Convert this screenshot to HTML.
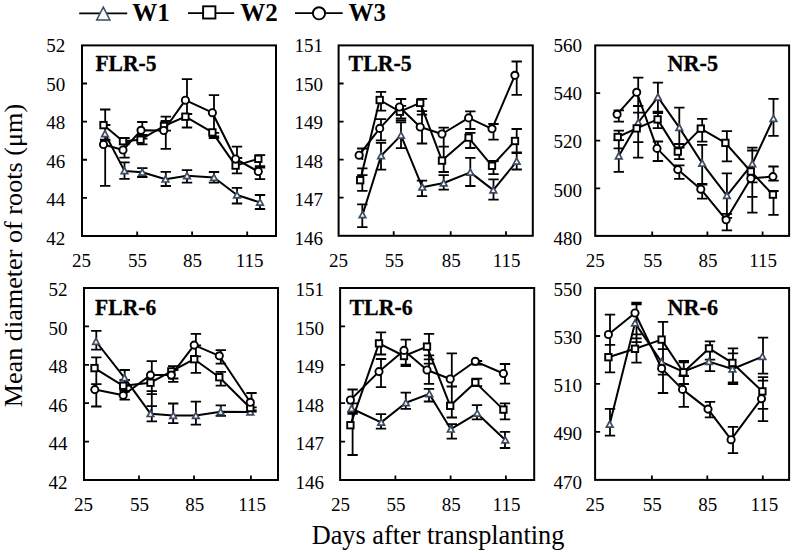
<!DOCTYPE html><html><head><meta charset="utf-8"><style>html,body{margin:0;padding:0;background:#fff;}svg{display:block;}text{font-family:"Liberation Serif",serif;}</style></head><body>
<svg width="794" height="553" viewBox="0 0 794 553">
<rect width="794" height="553" fill="#fff"/>
<path d="M105.2 109.5V140.5M100 109.5H110.4M100 140.5H110.4M105.2 140.5V185.8M100 140.5H110.4M100 185.8H110.4M105.2 125V139.7M100 125H110.4M100 139.7H110.4M124.5 138V144M119.3 138H129.7M119.3 144H129.7M124.5 142.3V157.6M119.3 142.3H129.7M119.3 157.6H129.7M124.5 162.3V178.8M119.3 162.3H129.7M119.3 178.8H129.7M142.3 122V138.6M137.1 122H147.5M137.1 138.6H147.5M142.3 135V144.4M137.1 135H147.5M137.1 144.4H147.5M142.3 168.2V177M137.1 168.2H147.5M137.1 177H147.5M165.8 116.7V148.8M160.6 116.7H171M160.6 148.8H171M165.8 121V130.6M160.6 121H171M160.6 130.6H171M165.8 171.8V186M160.6 171.8H171M160.6 186H171M187 79.2V114M181.8 79.2H192.2M181.8 114H192.2M187 114V127.5M181.8 127.5H192.2M187 170.2V182.6M181.8 170.2H192.2M181.8 182.6H192.2M214 95.2V137.6M208.8 95.2H219.2M208.8 132.8H219.2M208.8 136.4H219.2M208.8 138H219.2M214 172V182.6M208.8 172H219.2M208.8 182.6H219.2M237 146.6V158M231.8 146.6H242.2M231.8 158H242.2M237 158V173.4M231.8 158H242.2M231.8 173.4H242.2M237 187.8V203.5M231.8 187.8H242.2M231.8 203.5H242.2M260 155.2V167M254.8 155.2H265.2M254.8 166.2H265.2M254.8 167.6H265.2M260 167V179.1M254.8 179.1H265.2M260 195V209M254.8 195H265.2M254.8 209H265.2" stroke="#000" stroke-width="1.8" fill="none"/>
<path d="M105 133.8 L124.5 170.9 L142.3 172.3 L165.5 179.2 L187 175.8 L214 177.5 L237 195 L260 202.4" stroke="#000" stroke-width="2.0" fill="none" stroke-linejoin="round"/>
<path d="M105 130.6L108.3 136.6L101.7 136.6Z" fill="#f7f9fc" stroke="#3e4a5f" stroke-width="1.7" stroke-linejoin="miter"/>
<path d="M124.5 167.7L127.8 173.7L121.2 173.7Z" fill="#f7f9fc" stroke="#3e4a5f" stroke-width="1.7" stroke-linejoin="miter"/>
<path d="M142.3 169.1L145.6 175.1L139 175.1Z" fill="#f7f9fc" stroke="#3e4a5f" stroke-width="1.7" stroke-linejoin="miter"/>
<path d="M165.5 176L168.8 182L162.2 182Z" fill="#f7f9fc" stroke="#3e4a5f" stroke-width="1.7" stroke-linejoin="miter"/>
<path d="M187 172.6L190.3 178.6L183.7 178.6Z" fill="#f7f9fc" stroke="#3e4a5f" stroke-width="1.7" stroke-linejoin="miter"/>
<path d="M214 174.3L217.3 180.3L210.7 180.3Z" fill="#f7f9fc" stroke="#3e4a5f" stroke-width="1.7" stroke-linejoin="miter"/>
<path d="M237 191.8L240.3 197.8L233.7 197.8Z" fill="#f7f9fc" stroke="#3e4a5f" stroke-width="1.7" stroke-linejoin="miter"/>
<path d="M260 199.2L263.3 205.2L256.7 205.2Z" fill="#f7f9fc" stroke="#3e4a5f" stroke-width="1.7" stroke-linejoin="miter"/>
<path d="M103.5 125.1 L123 141.2 L140.5 139.7 L164 126 L185.4 116.7 L212.4 132.4 L235.6 165.6 L258.3 158.8" stroke="#000" stroke-width="2.0" fill="none" stroke-linejoin="round"/>
<rect x="100.3" y="121.9" width="6.4" height="6.4" fill="#fff" stroke="#000" stroke-width="1.9"/>
<rect x="119.8" y="138" width="6.4" height="6.4" fill="#fff" stroke="#000" stroke-width="1.9"/>
<rect x="137.3" y="136.5" width="6.4" height="6.4" fill="#fff" stroke="#000" stroke-width="1.9"/>
<rect x="160.8" y="122.8" width="6.4" height="6.4" fill="#fff" stroke="#000" stroke-width="1.9"/>
<rect x="182.2" y="113.5" width="6.4" height="6.4" fill="#fff" stroke="#000" stroke-width="1.9"/>
<rect x="209.2" y="129.2" width="6.4" height="6.4" fill="#fff" stroke="#000" stroke-width="1.9"/>
<rect x="232.4" y="162.4" width="6.4" height="6.4" fill="#fff" stroke="#000" stroke-width="1.9"/>
<rect x="255.1" y="155.6" width="6.4" height="6.4" fill="#fff" stroke="#000" stroke-width="1.9"/>
<path d="M103.5 144.5 L123 150 L141 130.3 L163.7 130.5 L185.4 100.2 L212.4 112.7 L235.6 159 L258.3 171.5" stroke="#000" stroke-width="2.0" fill="none" stroke-linejoin="round"/>
<circle cx="103.5" cy="144.5" r="3.6" fill="#fff" stroke="#000" stroke-width="1.9"/>
<circle cx="123" cy="150" r="3.6" fill="#fff" stroke="#000" stroke-width="1.9"/>
<circle cx="141" cy="130.3" r="3.6" fill="#fff" stroke="#000" stroke-width="1.9"/>
<circle cx="163.7" cy="130.5" r="3.6" fill="#fff" stroke="#000" stroke-width="1.9"/>
<circle cx="185.4" cy="100.2" r="3.6" fill="#fff" stroke="#000" stroke-width="1.9"/>
<circle cx="212.4" cy="112.7" r="3.6" fill="#fff" stroke="#000" stroke-width="1.9"/>
<circle cx="235.6" cy="159" r="3.6" fill="#fff" stroke="#000" stroke-width="1.9"/>
<circle cx="258.3" cy="171.5" r="3.6" fill="#fff" stroke="#000" stroke-width="1.9"/>
<rect x="82" y="45.4" width="194" height="190.6" fill="none" stroke="#000" stroke-width="2"/>
<path d="M82 83.52H87M82 121.64H87M82 159.76H87M82 197.88H87M137.2 236V231.5M192.1 236V231.5M247.2 236V231.5" stroke="#000" stroke-width="1.8" fill="none"/>
<text x="65.3" y="52.3" font-size="19" text-anchor="end">52</text>
<text x="65.3" y="90.76" font-size="19" text-anchor="end">50</text>
<text x="65.3" y="129.22" font-size="19" text-anchor="end">48</text>
<text x="65.3" y="167.68" font-size="19" text-anchor="end">46</text>
<text x="65.3" y="206.14" font-size="19" text-anchor="end">44</text>
<text x="65.3" y="244.6" font-size="19" text-anchor="end">42</text>
<text x="81.6" y="266.5" font-size="19" text-anchor="middle">25</text>
<text x="137.6" y="266.5" font-size="19" text-anchor="middle">55</text>
<text x="192.6" y="266.5" font-size="19" text-anchor="middle">85</text>
<text x="249.7" y="266.5" font-size="19" text-anchor="middle">115</text>
<text transform="translate(95.4,70.8) scale(0.92,1)" font-size="23.5" font-weight="bold" stroke="#000" stroke-width="0.3" text-anchor="start">FLR-5</text>
<path d="M362.3 148.5V160M357.1 148.5H367.5M362.3 168.4V190.8M357.1 168.4H367.5M357.1 190.8H367.5M357.1 175.2H367.5M362.3 204.3V227.1M357.1 204.3H367.5M357.1 227.1H367.5M381 91.8V110.7M375.8 91.8H386.2M375.8 110.7H386.2M381 119.2V140.4M375.8 119.2H386.2M375.8 140.4H386.2M381 142.8V169.7M375.8 142.8H386.2M375.8 169.7H386.2M401 99V111M395.8 99H406.2M401 105.8V118.4M395.8 105.8H406.2M395.8 118.4H406.2M395.8 120.4H406.2M401 122.4V148.1M395.8 122.4H406.2M395.8 148.1H406.2M422 98.8V114.7M416.8 98.8H427.2M416.8 114.7H427.2M422 111.1V143.5M416.8 111.1H427.2M416.8 143.5H427.2M422 180.7V196.2M416.8 180.7H427.2M416.8 196.2H427.2M443.7 127.7V146.7M438.5 127.7H448.9M438.5 146.7H448.9M443.7 146.7V172M438.5 172H448.9M443.7 175.2V189.7M438.5 175.2H448.9M438.5 189.7H448.9M470.3 111.3V129M465.1 111.3H475.5M465.1 129H475.5M470.3 132.8V148M465.1 132.8H475.5M465.1 148H475.5M470.3 157.8V186M465.1 157.8H475.5M465.1 186H475.5M493.5 124V139.7M488.3 124H498.7M488.3 139.7H498.7M493.5 161V174.2M488.3 161H498.7M488.3 174.2H498.7M493.5 179.3V199.6M488.3 179.3H498.7M488.3 199.6H498.7M516.7 61.5V94.8M511.5 61.5H521.9M511.5 94.8H521.9M516.7 129V152.4M511.5 129H521.9M511.5 152.4H521.9M516.7 153.1V169.5M511.5 153.1H521.9M511.5 169.5H521.9" stroke="#000" stroke-width="1.8" fill="none"/>
<path d="M362.5 214.9 L381.1 155.8 L401 135.4 L422.3 187.2 L443.7 183 L470.3 172.4 L493.3 190.1 L516.7 161.3" stroke="#000" stroke-width="2.0" fill="none" stroke-linejoin="round"/>
<path d="M362.5 211.7L365.8 217.7L359.2 217.7Z" fill="#f7f9fc" stroke="#3e4a5f" stroke-width="1.7" stroke-linejoin="miter"/>
<path d="M381.1 152.6L384.4 158.6L377.8 158.6Z" fill="#f7f9fc" stroke="#3e4a5f" stroke-width="1.7" stroke-linejoin="miter"/>
<path d="M401 132.2L404.3 138.2L397.7 138.2Z" fill="#f7f9fc" stroke="#3e4a5f" stroke-width="1.7" stroke-linejoin="miter"/>
<path d="M422.3 184L425.6 190L419 190Z" fill="#f7f9fc" stroke="#3e4a5f" stroke-width="1.7" stroke-linejoin="miter"/>
<path d="M443.7 179.8L447 185.8L440.4 185.8Z" fill="#f7f9fc" stroke="#3e4a5f" stroke-width="1.7" stroke-linejoin="miter"/>
<path d="M470.3 169.2L473.6 175.2L467 175.2Z" fill="#f7f9fc" stroke="#3e4a5f" stroke-width="1.7" stroke-linejoin="miter"/>
<path d="M493.3 186.9L496.6 192.9L490 192.9Z" fill="#f7f9fc" stroke="#3e4a5f" stroke-width="1.7" stroke-linejoin="miter"/>
<path d="M516.7 158.1L520 164.1L513.4 164.1Z" fill="#f7f9fc" stroke="#3e4a5f" stroke-width="1.7" stroke-linejoin="miter"/>
<path d="M360.2 180.2 L379.7 100 L399.9 111.7 L420.2 102.9 L442 160.6 L468.6 137.6 L492 165.8 L515 141" stroke="#000" stroke-width="2.0" fill="none" stroke-linejoin="round"/>
<rect x="357" y="177" width="6.4" height="6.4" fill="#fff" stroke="#000" stroke-width="1.9"/>
<rect x="376.5" y="96.8" width="6.4" height="6.4" fill="#fff" stroke="#000" stroke-width="1.9"/>
<rect x="396.7" y="108.5" width="6.4" height="6.4" fill="#fff" stroke="#000" stroke-width="1.9"/>
<rect x="417" y="99.7" width="6.4" height="6.4" fill="#fff" stroke="#000" stroke-width="1.9"/>
<rect x="438.8" y="157.4" width="6.4" height="6.4" fill="#fff" stroke="#000" stroke-width="1.9"/>
<rect x="465.4" y="134.4" width="6.4" height="6.4" fill="#fff" stroke="#000" stroke-width="1.9"/>
<rect x="488.8" y="162.6" width="6.4" height="6.4" fill="#fff" stroke="#000" stroke-width="1.9"/>
<rect x="511.8" y="137.8" width="6.4" height="6.4" fill="#fff" stroke="#000" stroke-width="1.9"/>
<path d="M359.1 155.2 L379.7 128.4 L399.5 107 L420.2 127 L442 134 L468.6 117.9 L492 128.8 L514.9 75.3" stroke="#000" stroke-width="2.0" fill="none" stroke-linejoin="round"/>
<circle cx="359.1" cy="155.2" r="3.6" fill="#fff" stroke="#000" stroke-width="1.9"/>
<circle cx="379.7" cy="128.4" r="3.6" fill="#fff" stroke="#000" stroke-width="1.9"/>
<circle cx="399.5" cy="107" r="3.6" fill="#fff" stroke="#000" stroke-width="1.9"/>
<circle cx="420.2" cy="127" r="3.6" fill="#fff" stroke="#000" stroke-width="1.9"/>
<circle cx="442" cy="134" r="3.6" fill="#fff" stroke="#000" stroke-width="1.9"/>
<circle cx="468.6" cy="117.9" r="3.6" fill="#fff" stroke="#000" stroke-width="1.9"/>
<circle cx="492" cy="128.8" r="3.6" fill="#fff" stroke="#000" stroke-width="1.9"/>
<circle cx="514.9" cy="75.3" r="3.6" fill="#fff" stroke="#000" stroke-width="1.9"/>
<rect x="338.6" y="45.4" width="194.2" height="190.4" fill="none" stroke="#000" stroke-width="2"/>
<path d="M338.6 83.48H343.6M338.6 121.56H343.6M338.6 159.64H343.6M338.6 197.72H343.6M393.7 235.8V231.3M450.7 235.8V231.3M506 235.8V231.3" stroke="#000" stroke-width="1.8" fill="none"/>
<text x="322.9" y="52.3" font-size="19" text-anchor="end">151</text>
<text x="322.9" y="90.76" font-size="19" text-anchor="end">150</text>
<text x="322.9" y="129.22" font-size="19" text-anchor="end">149</text>
<text x="322.9" y="167.68" font-size="19" text-anchor="end">148</text>
<text x="322.9" y="206.14" font-size="19" text-anchor="end">147</text>
<text x="322.9" y="244.6" font-size="19" text-anchor="end">146</text>
<text x="338.6" y="266.5" font-size="19" text-anchor="middle">25</text>
<text x="394.2" y="266.5" font-size="19" text-anchor="middle">55</text>
<text x="451.2" y="266.5" font-size="19" text-anchor="middle">85</text>
<text x="506.6" y="266.5" font-size="19" text-anchor="middle">115</text>
<text transform="translate(348.6,70.8) scale(0.93,1)" font-size="23.5" font-weight="bold" stroke="#000" stroke-width="0.3" text-anchor="start">TLR-5</text>
<path d="M618.8 110.3V121.6M613.6 110.3H624M613.6 121.6H624M618.8 130.7V148.4M613.6 130.7H624M613.6 148.4H624M618.8 140.2V171.8M613.6 140.2H624M613.6 171.8H624M638.2 77.7V112.6M633 77.7H643.4M633 112.6H643.4M638.2 106V142.2M633 106H643.4M633 142.2H643.4M638.2 142.2V157.6M633 142.2H643.4M633 157.6H643.4M657.9 82.7V111.7M652.7 82.7H663.1M652.7 111.7H663.1M657.9 113V128.2M652.7 113H663.1M652.7 128.2H663.1M657.9 141.5V161M652.7 141.5H663.1M652.7 161H663.1M679.3 107.7V147.5M674.1 107.7H684.5M674.1 147.5H684.5M679.3 144V159.2M674.1 144H684.5M674.1 159.2H684.5M679.3 165.3V178.8M674.1 165.3H684.5M674.1 178.8H684.5M702.2 118.9V141.6M697 118.9H707.4M697 141.6H707.4M702.2 144.9V184.7M697 144.9H707.4M697 184.7H707.4M702.2 184V198.7M697 184H707.4M697 198.7H707.4M726.9 131.1V161.4M721.7 131.1H732.1M721.7 161.4H732.1M726.9 173.4V217.8M721.7 173.4H732.1M721.7 217.8H732.1M726.9 213.9V230.4M721.7 213.9H732.1M721.7 230.4H732.1M752.3 147.6V182.3M747.1 147.6H757.5M747.1 182.3H757.5M752.3 150.5V196.8M747.1 150.5H757.5M747.1 196.8H757.5M752.3 182.3V212.7M747.1 182.3H757.5M747.1 212.7H757.5M773.5 98.9V135.8M768.3 98.9H778.7M768.3 135.8H778.7M773.5 166.5V180.6M768.3 166.5H778.7M768.3 180.6H778.7M773.5 191V214.8M768.3 191H778.7M768.3 214.8H778.7" stroke="#000" stroke-width="1.8" fill="none"/>
<path d="M618.8 156 L638.2 122.5 L657.9 97.2 L679.3 127.6 L702.2 163.3 L726.9 195.6 L752.3 163.9 L773.5 118.5" stroke="#000" stroke-width="2.0" fill="none" stroke-linejoin="round"/>
<path d="M618.8 152.8L622.1 158.8L615.5 158.8Z" fill="#f7f9fc" stroke="#3e4a5f" stroke-width="1.7" stroke-linejoin="miter"/>
<path d="M638.2 119.3L641.5 125.3L634.9 125.3Z" fill="#f7f9fc" stroke="#3e4a5f" stroke-width="1.7" stroke-linejoin="miter"/>
<path d="M657.9 94L661.2 100L654.6 100Z" fill="#f7f9fc" stroke="#3e4a5f" stroke-width="1.7" stroke-linejoin="miter"/>
<path d="M679.3 124.4L682.6 130.4L676 130.4Z" fill="#f7f9fc" stroke="#3e4a5f" stroke-width="1.7" stroke-linejoin="miter"/>
<path d="M702.2 160.1L705.5 166.1L698.9 166.1Z" fill="#f7f9fc" stroke="#3e4a5f" stroke-width="1.7" stroke-linejoin="miter"/>
<path d="M726.9 192.4L730.2 198.4L723.6 198.4Z" fill="#f7f9fc" stroke="#3e4a5f" stroke-width="1.7" stroke-linejoin="miter"/>
<path d="M752.3 160.7L755.6 166.7L749 166.7Z" fill="#f7f9fc" stroke="#3e4a5f" stroke-width="1.7" stroke-linejoin="miter"/>
<path d="M773.5 115.3L776.8 121.3L770.2 121.3Z" fill="#f7f9fc" stroke="#3e4a5f" stroke-width="1.7" stroke-linejoin="miter"/>
<path d="M617.7 137 L636.7 128.4 L657.6 119.4 L677.8 151.6 L700.8 128.6 L725.4 142.9 L750.8 171.5 L772.9 194.6" stroke="#000" stroke-width="2.0" fill="none" stroke-linejoin="round"/>
<rect x="614.5" y="133.8" width="6.4" height="6.4" fill="#fff" stroke="#000" stroke-width="1.9"/>
<rect x="633.5" y="125.2" width="6.4" height="6.4" fill="#fff" stroke="#000" stroke-width="1.9"/>
<rect x="654.4" y="116.2" width="6.4" height="6.4" fill="#fff" stroke="#000" stroke-width="1.9"/>
<rect x="674.6" y="148.4" width="6.4" height="6.4" fill="#fff" stroke="#000" stroke-width="1.9"/>
<rect x="697.6" y="125.4" width="6.4" height="6.4" fill="#fff" stroke="#000" stroke-width="1.9"/>
<rect x="722.2" y="139.7" width="6.4" height="6.4" fill="#fff" stroke="#000" stroke-width="1.9"/>
<rect x="747.6" y="168.3" width="6.4" height="6.4" fill="#fff" stroke="#000" stroke-width="1.9"/>
<rect x="769.7" y="191.4" width="6.4" height="6.4" fill="#fff" stroke="#000" stroke-width="1.9"/>
<path d="M617.1 114.3 L636.7 92.3 L657 148.4 L677.8 169.6 L700.8 189.2 L726.1 219.8 L750.8 178.5 L772.9 176.6" stroke="#000" stroke-width="2.0" fill="none" stroke-linejoin="round"/>
<circle cx="617.1" cy="114.3" r="3.6" fill="#fff" stroke="#000" stroke-width="1.9"/>
<circle cx="636.7" cy="92.3" r="3.6" fill="#fff" stroke="#000" stroke-width="1.9"/>
<circle cx="657" cy="148.4" r="3.6" fill="#fff" stroke="#000" stroke-width="1.9"/>
<circle cx="677.8" cy="169.6" r="3.6" fill="#fff" stroke="#000" stroke-width="1.9"/>
<circle cx="700.8" cy="189.2" r="3.6" fill="#fff" stroke="#000" stroke-width="1.9"/>
<circle cx="726.1" cy="219.8" r="3.6" fill="#fff" stroke="#000" stroke-width="1.9"/>
<circle cx="750.8" cy="178.5" r="3.6" fill="#fff" stroke="#000" stroke-width="1.9"/>
<circle cx="772.9" cy="176.6" r="3.6" fill="#fff" stroke="#000" stroke-width="1.9"/>
<rect x="595.2" y="45.4" width="193.9" height="190.5" fill="none" stroke="#000" stroke-width="2"/>
<path d="M595.2 93.03H600.2M595.2 140.65H600.2M595.2 188.28H600.2M652.2 235.9V231.4M707.4 235.9V231.4M762.6 235.9V231.4" stroke="#000" stroke-width="1.8" fill="none"/>
<text x="582.1" y="52.3" font-size="19" text-anchor="end">560</text>
<text x="582.1" y="100.38" font-size="19" text-anchor="end">540</text>
<text x="582.1" y="148.45" font-size="19" text-anchor="end">520</text>
<text x="582.1" y="196.53" font-size="19" text-anchor="end">500</text>
<text x="582.1" y="244.6" font-size="19" text-anchor="end">480</text>
<text x="595.2" y="266.5" font-size="19" text-anchor="middle">25</text>
<text x="652.7" y="266.5" font-size="19" text-anchor="middle">55</text>
<text x="707.9" y="266.5" font-size="19" text-anchor="middle">85</text>
<text x="763.2" y="266.5" font-size="19" text-anchor="middle">115</text>
<text transform="translate(692.8,70.8) scale(0.945,1)" font-size="23.5" font-weight="bold" stroke="#000" stroke-width="0.3" text-anchor="middle">NR-5</text>
<path d="M96.3 330.8V349.7M91.1 330.8H101.5M91.1 349.7H101.5M96.3 357.3V378.9M91.1 357.3H101.5M96.3 378.9V384.1M91.1 384.1H101.5M96.3 384.1V406.5M91.1 384.1H101.5M91.1 406.5H101.5M124.7 370V385.6M119.5 370H129.9M119.5 385.6H129.9M124.7 380V391.6M119.5 380H129.9M119.5 391.6H129.9M124.7 390.9V399.7M119.5 390.9H129.9M119.5 399.7H129.9M151.8 361.1V391.2M146.6 361.1H157M146.6 391.2H157M151.8 375V394.2M146.6 394.2H157M151.8 394.2V406.1M151.8 406.1V421.3M146.6 406.1H157M146.6 421.3H157M173.2 366.2V378.5M168 366.2H178.4M168 378.5H178.4M173.2 370V381.8M168 370H178.4M168 381.8H178.4M173.2 403.5V423.2M168 403.5H178.4M168 423.2H178.4M195.9 333.9V356.3M190.7 333.9H201.1M190.7 356.3H201.1M195.9 345.5V372.9M190.7 345.5H201.1M190.7 372.9H201.1M195.9 401.6V424.7M190.7 401.6H201.1M190.7 424.7H201.1M220.8 350.1V363.7M215.6 350.1H226M215.6 363.7H226M220.8 371.9V385.6M215.6 371.9H226M215.6 385.6H226M220.8 405.4V415.8M215.6 405.4H226M215.6 415.8H226M251.5 393V411.6M246.3 393H256.7M246.3 411.6H256.7M251.5 407.3V410.5M246.3 407.3H256.7M246.3 410.5H256.7" stroke="#000" stroke-width="1.8" fill="none"/>
<path d="M96 341.5 L124.5 377.8 L150.5 413.7 L173.2 415.6 L195.9 415.6 L220.6 411.8 L250.3 412" stroke="#000" stroke-width="2.0" fill="none" stroke-linejoin="round"/>
<path d="M96 338.3L99.3 344.3L92.7 344.3Z" fill="#f7f9fc" stroke="#3e4a5f" stroke-width="1.7" stroke-linejoin="miter"/>
<path d="M124.5 374.6L127.8 380.6L121.2 380.6Z" fill="#f7f9fc" stroke="#3e4a5f" stroke-width="1.7" stroke-linejoin="miter"/>
<path d="M150.5 410.5L153.8 416.5L147.2 416.5Z" fill="#f7f9fc" stroke="#3e4a5f" stroke-width="1.7" stroke-linejoin="miter"/>
<path d="M173.2 412.4L176.5 418.4L169.9 418.4Z" fill="#f7f9fc" stroke="#3e4a5f" stroke-width="1.7" stroke-linejoin="miter"/>
<path d="M195.9 412.4L199.2 418.4L192.6 418.4Z" fill="#f7f9fc" stroke="#3e4a5f" stroke-width="1.7" stroke-linejoin="miter"/>
<path d="M220.6 408.6L223.9 414.6L217.3 414.6Z" fill="#f7f9fc" stroke="#3e4a5f" stroke-width="1.7" stroke-linejoin="miter"/>
<path d="M250.3 408.8L253.6 414.8L247 414.8Z" fill="#f7f9fc" stroke="#3e4a5f" stroke-width="1.7" stroke-linejoin="miter"/>
<path d="M94.5 368.1 L123.2 385.8 L150.5 382.7 L171.3 371.4 L194.2 359.2 L219.3 377.2 L250.3 408" stroke="#000" stroke-width="2.0" fill="none" stroke-linejoin="round"/>
<rect x="91.3" y="364.9" width="6.4" height="6.4" fill="#fff" stroke="#000" stroke-width="1.9"/>
<rect x="120" y="382.6" width="6.4" height="6.4" fill="#fff" stroke="#000" stroke-width="1.9"/>
<rect x="147.3" y="379.5" width="6.4" height="6.4" fill="#fff" stroke="#000" stroke-width="1.9"/>
<rect x="168.1" y="368.2" width="6.4" height="6.4" fill="#fff" stroke="#000" stroke-width="1.9"/>
<rect x="191" y="356" width="6.4" height="6.4" fill="#fff" stroke="#000" stroke-width="1.9"/>
<rect x="216.1" y="374" width="6.4" height="6.4" fill="#fff" stroke="#000" stroke-width="1.9"/>
<rect x="247.1" y="404.8" width="6.4" height="6.4" fill="#fff" stroke="#000" stroke-width="1.9"/>
<path d="M94.8 389.6 L123.2 395.3 L150.5 375.1 L171.3 375.1 L194.2 345.1 L219.3 355.8 L250.3 402.3" stroke="#000" stroke-width="2.0" fill="none" stroke-linejoin="round"/>
<circle cx="94.8" cy="389.6" r="3.6" fill="#fff" stroke="#000" stroke-width="1.9"/>
<circle cx="123.2" cy="395.3" r="3.6" fill="#fff" stroke="#000" stroke-width="1.9"/>
<circle cx="150.5" cy="375.1" r="3.6" fill="#fff" stroke="#000" stroke-width="1.9"/>
<circle cx="171.3" cy="375.1" r="3.6" fill="#fff" stroke="#000" stroke-width="1.9"/>
<circle cx="194.2" cy="345.1" r="3.6" fill="#fff" stroke="#000" stroke-width="1.9"/>
<circle cx="219.3" cy="355.8" r="3.6" fill="#fff" stroke="#000" stroke-width="1.9"/>
<circle cx="250.3" cy="402.3" r="3.6" fill="#fff" stroke="#000" stroke-width="1.9"/>
<rect x="84" y="288" width="194" height="192" fill="none" stroke="#000" stroke-width="2"/>
<path d="M84 326.4H89M84 364.8H89M84 403.2H89M84 441.6H89M139 480V475.5M194 480V475.5M250.9 480V475.5" stroke="#000" stroke-width="1.8" fill="none"/>
<text x="67.4" y="296.1" font-size="19" text-anchor="end">52</text>
<text x="67.4" y="334.6" font-size="19" text-anchor="end">50</text>
<text x="67.4" y="373.1" font-size="19" text-anchor="end">48</text>
<text x="67.4" y="411.6" font-size="19" text-anchor="end">46</text>
<text x="67.4" y="450.1" font-size="19" text-anchor="end">44</text>
<text x="67.4" y="488.6" font-size="19" text-anchor="end">42</text>
<text x="83.6" y="510.5" font-size="19" text-anchor="middle">25</text>
<text x="139.5" y="510.5" font-size="19" text-anchor="middle">55</text>
<text x="194.8" y="510.5" font-size="19" text-anchor="middle">85</text>
<text x="252.1" y="510.5" font-size="19" text-anchor="middle">115</text>
<text transform="translate(95.1,314.5) scale(0.92,1)" font-size="23.5" font-weight="bold" stroke="#000" stroke-width="0.3" text-anchor="start">FLR-6</text>
<path d="M352.6 389.5V403.4M347.4 389.5H357.8M347.4 403.4H357.8M352.6 395.4V455M347.4 455H357.8M347.4 412.2H357.8M347.4 413.8H357.8M381 332.3V354.5M375.8 332.3H386.2M375.8 354.5H386.2M381 359V387.1M375.8 359H386.2M375.8 387.1H386.2M381 414.2V428.7M375.8 414.2H386.2M375.8 428.7H386.2M405.8 339.6V358M400.6 339.6H411M405.8 348.1V364.6M400.6 364.6H411M400.6 366H411M405.8 392.7V408.9M400.6 392.7H411M400.6 408.9H411M429 333.9V359.3M423.8 333.9H434.2M423.8 359.3H434.2M429 355.4V383.9M423.8 355.4H434.2M423.8 383.9H434.2M423.8 363.7H434.2M429 388.9V401.5M423.8 388.9H434.2M423.8 401.5H434.2M451.8 353.3V404.7M446.6 353.3H457M446.6 386.5H457M451.8 394.4V417.5M446.6 417.5H457M451.8 424.2V438.7M446.6 424.2H457M446.6 438.7H457M477 361V364.5M471.8 361H482.2M471.8 364.5H482.2M477 378.6V386.2M471.8 378.6H482.2M471.8 386.2H482.2M477 405.2V419.4M471.8 405.2H482.2M471.8 419.4H482.2M505 364V383.7M499.8 364H510.2M499.8 383.7H510.2M505 403.3V419.4M499.8 403.3H510.2M499.8 419.4H510.2M505 431.8V448M499.8 431.8H510.2M499.8 448H510.2" stroke="#000" stroke-width="1.8" fill="none"/>
<path d="M351.5 408.5 L381.2 422.4 L405.9 402.8 L429.3 393.9 L450.8 429.2 L477.2 413.4 L505.3 440" stroke="#000" stroke-width="2.0" fill="none" stroke-linejoin="round"/>
<path d="M351.5 405.3L354.8 411.3L348.2 411.3Z" fill="#f7f9fc" stroke="#3e4a5f" stroke-width="1.7" stroke-linejoin="miter"/>
<path d="M381.2 419.2L384.5 425.2L377.9 425.2Z" fill="#f7f9fc" stroke="#3e4a5f" stroke-width="1.7" stroke-linejoin="miter"/>
<path d="M405.9 399.6L409.2 405.6L402.6 405.6Z" fill="#f7f9fc" stroke="#3e4a5f" stroke-width="1.7" stroke-linejoin="miter"/>
<path d="M429.3 390.7L432.6 396.7L426 396.7Z" fill="#f7f9fc" stroke="#3e4a5f" stroke-width="1.7" stroke-linejoin="miter"/>
<path d="M450.8 426L454.1 432L447.5 432Z" fill="#f7f9fc" stroke="#3e4a5f" stroke-width="1.7" stroke-linejoin="miter"/>
<path d="M477.2 410.2L480.5 416.2L473.9 416.2Z" fill="#f7f9fc" stroke="#3e4a5f" stroke-width="1.7" stroke-linejoin="miter"/>
<path d="M505.3 436.8L508.6 442.8L502 442.8Z" fill="#f7f9fc" stroke="#3e4a5f" stroke-width="1.7" stroke-linejoin="miter"/>
<path d="M350.4 425.2 L379 343.4 L404 356 L427 346.6 L450.2 405.8 L475.3 382.4 L503.4 409.6" stroke="#000" stroke-width="2.0" fill="none" stroke-linejoin="round"/>
<rect x="347.2" y="422" width="6.4" height="6.4" fill="#fff" stroke="#000" stroke-width="1.9"/>
<rect x="375.8" y="340.2" width="6.4" height="6.4" fill="#fff" stroke="#000" stroke-width="1.9"/>
<rect x="400.8" y="352.8" width="6.4" height="6.4" fill="#fff" stroke="#000" stroke-width="1.9"/>
<rect x="423.8" y="343.4" width="6.4" height="6.4" fill="#fff" stroke="#000" stroke-width="1.9"/>
<rect x="447" y="402.6" width="6.4" height="6.4" fill="#fff" stroke="#000" stroke-width="1.9"/>
<rect x="472.1" y="379.2" width="6.4" height="6.4" fill="#fff" stroke="#000" stroke-width="1.9"/>
<rect x="500.2" y="406.4" width="6.4" height="6.4" fill="#fff" stroke="#000" stroke-width="1.9"/>
<path d="M350.4 400 L379 371.6 L404 350.4 L427 370 L450.2 379 L475.3 361.3 L503.4 373.5" stroke="#000" stroke-width="2.0" fill="none" stroke-linejoin="round"/>
<circle cx="350.4" cy="400" r="3.6" fill="#fff" stroke="#000" stroke-width="1.9"/>
<circle cx="379" cy="371.6" r="3.6" fill="#fff" stroke="#000" stroke-width="1.9"/>
<circle cx="404" cy="350.4" r="3.6" fill="#fff" stroke="#000" stroke-width="1.9"/>
<circle cx="427" cy="370" r="3.6" fill="#fff" stroke="#000" stroke-width="1.9"/>
<circle cx="450.2" cy="379" r="3.6" fill="#fff" stroke="#000" stroke-width="1.9"/>
<circle cx="475.3" cy="361.3" r="3.6" fill="#fff" stroke="#000" stroke-width="1.9"/>
<circle cx="503.4" cy="373.5" r="3.6" fill="#fff" stroke="#000" stroke-width="1.9"/>
<rect x="340.1" y="288" width="194.1" height="192" fill="none" stroke="#000" stroke-width="2"/>
<path d="M340.1 326.4H345.1M340.1 364.8H345.1M340.1 403.2H345.1M340.1 441.6H345.1M395.4 480V475.5M450.6 480V475.5M505.9 480V475.5" stroke="#000" stroke-width="1.8" fill="none"/>
<text x="324" y="296.1" font-size="19" text-anchor="end">151</text>
<text x="324" y="334.6" font-size="19" text-anchor="end">150</text>
<text x="324" y="373.1" font-size="19" text-anchor="end">149</text>
<text x="324" y="411.6" font-size="19" text-anchor="end">148</text>
<text x="324" y="450.1" font-size="19" text-anchor="end">147</text>
<text x="324" y="488.6" font-size="19" text-anchor="end">146</text>
<text x="340.5" y="510.5" font-size="19" text-anchor="middle">25</text>
<text x="396" y="510.5" font-size="19" text-anchor="middle">55</text>
<text x="451.2" y="510.5" font-size="19" text-anchor="middle">85</text>
<text x="506.5" y="510.5" font-size="19" text-anchor="middle">115</text>
<text transform="translate(349.5,314.5) scale(0.93,1)" font-size="23.5" font-weight="bold" stroke="#000" stroke-width="0.3" text-anchor="start">TLR-6</text>
<path d="M610 314.6V372.4M604.8 314.6H615.2M604.8 344.8H615.2M604.8 372.4H615.2M610 408.9V435.7M604.8 408.9H615.2M604.8 435.7H615.2M636.5 302.6V362.7M631.3 302.6H641.7M631.3 304.4H641.7M631.3 334.4H641.7M631.3 338.3H641.7M631.3 342.2H641.7M631.3 362.7H641.7M663 321.8V349.2M657.8 321.8H668.2M657.8 349.2H668.2M663 349.2V374.7M657.8 349.2H668.2M657.8 374.7H668.2M663 374.7V393M657.8 374.7H668.2M657.8 393H668.2M683.8 360.8V384M678.6 360.8H689M678.6 384H689M678.6 362.4H689M678.6 376H689M683.8 384V406.8M678.6 384H689M678.6 406.8H689M710 341.4V352M704.8 341.4H715.2M710 352V371.1M704.8 371.1H715.2M704.8 359.7H715.2M710 401.8V417.3M704.8 401.8H715.2M704.8 417.3H715.2M733 348.4V372.4M727.8 348.4H738.2M733 353.4V382.3M727.8 353.4H738.2M727.8 382.3H738.2M727.8 384H738.2M733 426.8V453.2M727.8 426.8H738.2M727.8 453.2H738.2M763 337.6V373.7M757.8 337.6H768.2M757.8 373.7H768.2M763 377.1V380.6M757.8 377.1H768.2M757.8 380.6H768.2M763 380.6V408.9M757.8 380.6H768.2M757.8 408.9H768.2M763 408.9V421.1M757.8 408.9H768.2M757.8 421.1H768.2" stroke="#000" stroke-width="1.8" fill="none"/>
<path d="M609.7 424.3 L635 323.1 L661.6 362 L683 371.7 L709 361.6 L732.4 369 L762.4 356.6" stroke="#000" stroke-width="2.0" fill="none" stroke-linejoin="round"/>
<path d="M609.7 421.1L613 427.1L606.4 427.1Z" fill="#f7f9fc" stroke="#3e4a5f" stroke-width="1.7" stroke-linejoin="miter"/>
<path d="M635 319.9L638.3 325.9L631.7 325.9Z" fill="#f7f9fc" stroke="#3e4a5f" stroke-width="1.7" stroke-linejoin="miter"/>
<path d="M661.6 358.8L664.9 364.8L658.3 364.8Z" fill="#f7f9fc" stroke="#3e4a5f" stroke-width="1.7" stroke-linejoin="miter"/>
<path d="M683 368.5L686.3 374.5L679.7 374.5Z" fill="#f7f9fc" stroke="#3e4a5f" stroke-width="1.7" stroke-linejoin="miter"/>
<path d="M709 358.4L712.3 364.4L705.7 364.4Z" fill="#f7f9fc" stroke="#3e4a5f" stroke-width="1.7" stroke-linejoin="miter"/>
<path d="M732.4 365.8L735.7 371.8L729.1 371.8Z" fill="#f7f9fc" stroke="#3e4a5f" stroke-width="1.7" stroke-linejoin="miter"/>
<path d="M762.4 353.4L765.7 359.4L759.1 359.4Z" fill="#f7f9fc" stroke="#3e4a5f" stroke-width="1.7" stroke-linejoin="miter"/>
<path d="M608.4 357.2 L635 348.8 L661.6 339.6 L683.4 372.3 L709 348.4 L732.4 362.9 L762.4 391.4" stroke="#000" stroke-width="2.0" fill="none" stroke-linejoin="round"/>
<rect x="605.2" y="354" width="6.4" height="6.4" fill="#fff" stroke="#000" stroke-width="1.9"/>
<rect x="631.8" y="345.6" width="6.4" height="6.4" fill="#fff" stroke="#000" stroke-width="1.9"/>
<rect x="658.4" y="336.4" width="6.4" height="6.4" fill="#fff" stroke="#000" stroke-width="1.9"/>
<rect x="680.2" y="369.1" width="6.4" height="6.4" fill="#fff" stroke="#000" stroke-width="1.9"/>
<rect x="705.8" y="345.2" width="6.4" height="6.4" fill="#fff" stroke="#000" stroke-width="1.9"/>
<rect x="729.2" y="359.7" width="6.4" height="6.4" fill="#fff" stroke="#000" stroke-width="1.9"/>
<rect x="759.2" y="388.2" width="6.4" height="6.4" fill="#fff" stroke="#000" stroke-width="1.9"/>
<path d="M608.4 334.5 L635 313 L661.6 368.4 L682.5 389.4 L708 409.1 L731.1 439.7 L761.5 398.7" stroke="#000" stroke-width="2.0" fill="none" stroke-linejoin="round"/>
<circle cx="608.4" cy="334.5" r="3.6" fill="#fff" stroke="#000" stroke-width="1.9"/>
<circle cx="635" cy="313" r="3.6" fill="#fff" stroke="#000" stroke-width="1.9"/>
<circle cx="661.6" cy="368.4" r="3.6" fill="#fff" stroke="#000" stroke-width="1.9"/>
<circle cx="682.5" cy="389.4" r="3.6" fill="#fff" stroke="#000" stroke-width="1.9"/>
<circle cx="708" cy="409.1" r="3.6" fill="#fff" stroke="#000" stroke-width="1.9"/>
<circle cx="731.1" cy="439.7" r="3.6" fill="#fff" stroke="#000" stroke-width="1.9"/>
<circle cx="761.5" cy="398.7" r="3.6" fill="#fff" stroke="#000" stroke-width="1.9"/>
<rect x="595.1" y="288" width="194" height="191.9" fill="none" stroke="#000" stroke-width="2"/>
<path d="M595.1 335.98H600.1M595.1 383.95H600.1M595.1 431.92H600.1M651.9 479.9V475.4M707.3 479.9V475.4M762.8 479.9V475.4" stroke="#000" stroke-width="1.8" fill="none"/>
<text x="582.1" y="296.1" font-size="19" text-anchor="end">550</text>
<text x="582.1" y="344.23" font-size="19" text-anchor="end">530</text>
<text x="582.1" y="392.35" font-size="19" text-anchor="end">510</text>
<text x="582.1" y="440.48" font-size="19" text-anchor="end">490</text>
<text x="582.1" y="488.6" font-size="19" text-anchor="end">470</text>
<text x="595.1" y="510.5" font-size="19" text-anchor="middle">25</text>
<text x="652.2" y="510.5" font-size="19" text-anchor="middle">55</text>
<text x="707.8" y="510.5" font-size="19" text-anchor="middle">85</text>
<text x="764.4" y="510.5" font-size="19" text-anchor="middle">115</text>
<text transform="translate(692.8,314.5) scale(0.945,1)" font-size="23.5" font-weight="bold" stroke="#000" stroke-width="0.3" text-anchor="middle">NR-6</text>
<path d="M79.2 13.3H127.2M188 13.2H234.2M295 13.2H342.7" stroke="#000" stroke-width="1.8"/>
<path d="M103.3 7.2L109.9 19.9L96.7 19.9Z" fill="#f7f9fc" stroke="#3e4a5f" stroke-width="1.5"/>
<rect x="203.1" y="6.3" width="12.3" height="12.2" fill="#fff" stroke="#000" stroke-width="1.9"/>
<circle cx="319" cy="13.3" r="6.1" fill="#fff" stroke="#000" stroke-width="1.9"/>
<text x="132.2" y="21.3" font-size="25" font-weight="bold">W1</text>
<text x="240.3" y="21.3" font-size="25" font-weight="bold">W2</text>
<text x="348.6" y="21.3" font-size="25" font-weight="bold">W3</text>
<text x="311.7" y="543.6" font-size="26.3">Days after transplanting</text>
<text transform="translate(22,255.6) rotate(-90)" font-size="26.2" text-anchor="middle">Mean diameter of roots (&#956;m)</text>
</svg></body></html>
